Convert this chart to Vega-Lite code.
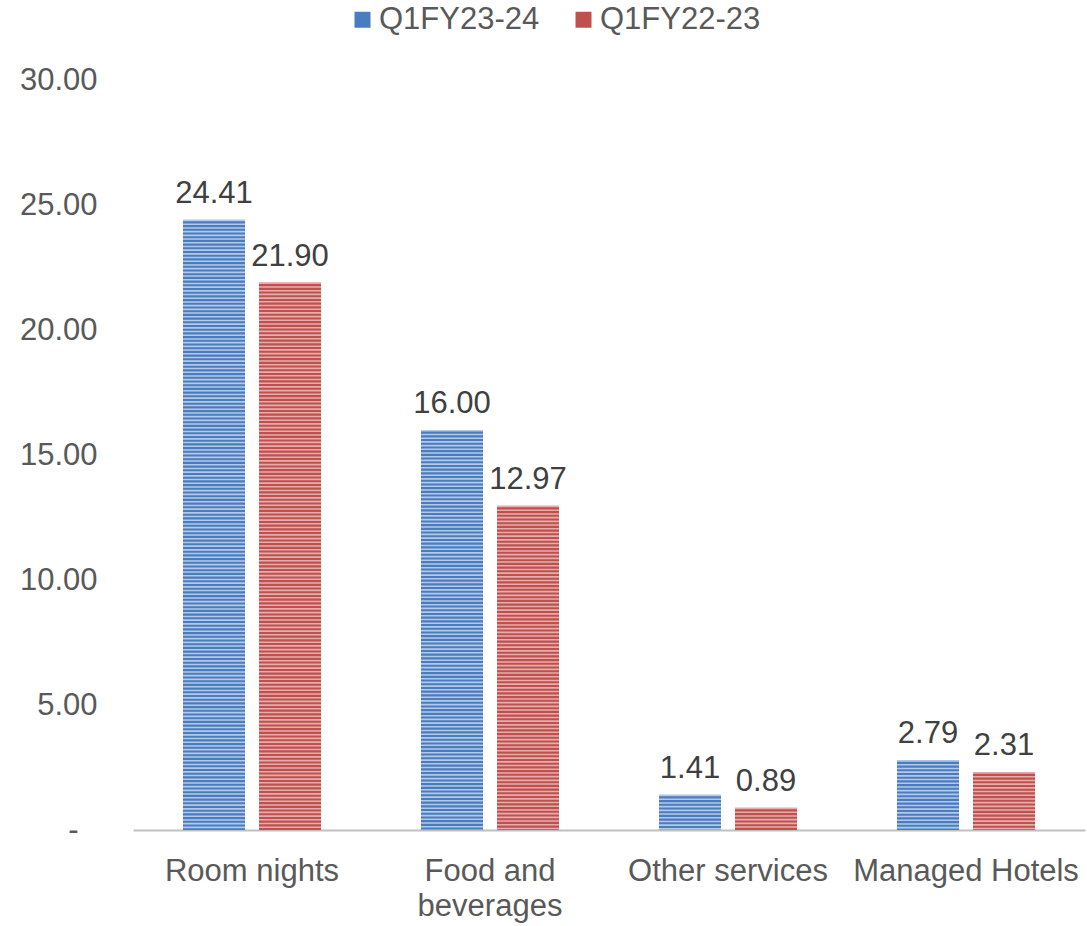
{
  "$schema": "https://vega.github.io/schema/vega-lite/v6.json",
  "width": 952,
  "height": 750,
  "autosize": "none",
  "padding": {"left": 133, "top": 80, "right": 2, "bottom": 96},
  "background": "white",
  "config": {
    "view": {"stroke": null},
    "font": "Liberation Sans"
  },
  "data": {
    "values": [
      {"category": "Room nights", "series": "Q1FY23-24", "value": 24.41},
      {"category": "Room nights", "series": "Q1FY22-23", "value": 21.90},
      {"category": "Food and beverages", "series": "Q1FY23-24", "value": 16.00},
      {"category": "Food and beverages", "series": "Q1FY22-23", "value": 12.97},
      {"category": "Other services", "series": "Q1FY23-24", "value": 1.41},
      {"category": "Other services", "series": "Q1FY22-23", "value": 0.89},
      {"category": "Managed Hotels", "series": "Q1FY23-24", "value": 2.79},
      {"category": "Managed Hotels", "series": "Q1FY22-23", "value": 2.31}
    ]
  },
  "encoding": {
    "x": {
      "field": "category", "type": "nominal", "sort": null,
      "scale": {"paddingInner": 0.42, "paddingOuter": 0.21},
      "axis": {
        "title": null, "labelAngle": 0, "ticks": false,
        "domainColor": "#bfbfbf", "domainWidth": 2,
        "labelFontSize": 31, "labelColor": "#595959", "labelPadding": 41,
        "labelBaseline": "middle", "labelLineHeight": 35, "labelLimit": 400,
        "labelExpr": "datum.value == 'Food and beverages' ? ['Food and', 'beverages'] : datum.value"
      }
    },
    "xOffset": {
      "field": "series", "type": "nominal", "sort": ["Q1FY23-24", "Q1FY22-23"],
      "scale": {"paddingInner": 0.184, "paddingOuter": 0}
    },
    "y": {
      "field": "value", "type": "quantitative",
      "scale": {"domain": [0, 30], "nice": false},
      "axis": {
        "title": null, "grid": false, "domain": false, "ticks": false,
        "values": [0, 5, 10, 15, 20, 25, 30],
        "labelFontSize": 31, "labelColor": "#595959",
        "labelPadding": {"condition": {"test": "datum.value == 0", "value": 55}, "value": 36},
        "labelExpr": "datum.value == 0 ? '-' : format(datum.value, '.2f')"
      }
    }
  },
  "layer": [
    {
      "mark": {"type": "bar"},
      "encoding": {
        "color": {
          "field": "series", "type": "nominal", "sort": ["Q1FY23-24", "Q1FY22-23"],
          "scale": {"domain": ["Q1FY23-24", "Q1FY22-23"], "range": ["#4a7cc0", "#c0504d"]},
          "legend": {
            "title": null, "orient": "none", "direction": "horizontal",
            "legendX": 214, "legendY": -76,
            "symbolType": "square", "symbolSize": 256, "symbolStrokeWidth": 0,
            "labelFontSize": 31, "labelColor": "#595959", "labelOffset": 1,
            "labelLimit": 400, "columnPadding": 28
          }
        }
      }
    },
    {
      "mark": {"type": "rule", "strokeWidth": 62, "strokeCap": "butt", "strokeDash": [1.6, 2.1], "opacity": 0.72},
      "encoding": {
        "y2": {"datum": 0},
        "color": {
          "field": "series", "type": "nominal",
          "scale": {"domain": ["Q1FY23-24", "Q1FY22-23"], "range": ["#dce7f5", "#f3d3d2"]},
          "legend": null
        }
      }
    },
    {
      "mark": {"type": "text", "fontSize": 31, "color": "#404040", "baseline": "alphabetic", "dy": -17},
      "encoding": {
        "text": {"field": "value", "type": "quantitative", "format": ".2f"}
      }
    }
  ],
  "resolve": {"scale": {"color": "independent"}}
}
